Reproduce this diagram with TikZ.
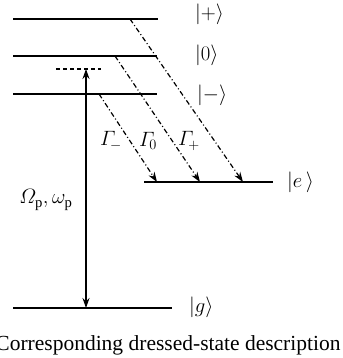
\documentclass[tikz,border=0pt]{standalone}
\usepackage{amsmath}
\usepackage{fontspec}
\setmainfont{Liberation Serif}
\usetikzlibrary{arrows.meta}
\begin{document}
\begin{tikzpicture}[x=1pt,y=-1pt,
  level/.style={line width=1.5pt},
  decay/.style={line width=1.2pt, dash pattern=on 5pt off 2.5pt on 1pt off 2.5pt, -{Stealth[length=10pt,width=7pt]}},
  pump/.style={line width=1.2pt, {Stealth[length=10pt,width=7pt]}-{Stealth[length=10pt,width=7pt]}},
  ket/.style={font=\fontsize{21}{24}\selectfont, anchor=west, inner sep=0pt},
  rate/.style={font=\fontsize{21}{24}\selectfont, inner sep=0pt},
  caption/.style={font=\fontsize{21.5}{24}\selectfont, inner sep=0pt}]
\useasboundingbox (0,0) rectangle (342,358);
\clip (0,0) rectangle (342,358);
% levels
\coordinate (pL) at (13,19);  \coordinate (pR) at (158,19);
\coordinate (zL) at (13,56);  \coordinate (zR) at (157,56);
\coordinate (mL) at (13,94);  \coordinate (mR) at (157,94);
\coordinate (eL) at (144,182); \coordinate (eR) at (273,182);
\coordinate (gL) at (13,308); \coordinate (gR) at (172,308);
\coordinate (vL) at (56,69);  \coordinate (vR) at (101,69);
\draw[level] (pL) -- (pR);
\draw[level] (zL) -- (zR);
\draw[level] (mL) -- (mR);
\draw[level] (eL) -- (eR);
\draw[level] (gL) -- (gR);
\draw[line width=1.2pt, dash pattern=on 4pt off 3pt] (vL) -- (vR);
% pump arrow
\coordinate (pumpT) at (86,69);
\coordinate (pumpB) at (86,308);
\draw[pump] (pumpT) -- (pumpB);
% decay arrows
\coordinate (dpS) at (130,19); \coordinate (dpE) at (243,182);
\coordinate (dzS) at (115,56); \coordinate (dzE) at (200,182);
\coordinate (dmS) at (99,94);  \coordinate (dmE) at (157,182);
\draw[decay] (dpS) -- (dpE);
\draw[decay] (dzS) -- (dzE);
\draw[decay] (dmS) -- (dmE);
% labels
\node[ket] (kp) at (195,14) {$|{+}\rangle$};
\node[ket] (kz) at (195,55) {$|0\rangle$};
\node[ket] (km) at (197,95) {$|{-}\rangle$};
\node[ket] (ke) at (287,182) {$|e\,\rangle$};
\node[ket] (kg) at (189,307) {$|g\rangle$};
\node[rate] (gm) at (111,141) {$\varGamma_{\!-}$};
\node[rate] (gz) at (148,141) {$\varGamma_{\!0}$};
\node[rate] (gp) at (189,141) {$\varGamma_{\!+}$};
\node[rate] (om) at (46,200) {$\varOmega_{\mathrm{p}},\omega_{\mathrm{p}}$};
\node[caption] (cap) at (168,345) {Corresponding dressed-state description};
\end{tikzpicture}
\end{document}
